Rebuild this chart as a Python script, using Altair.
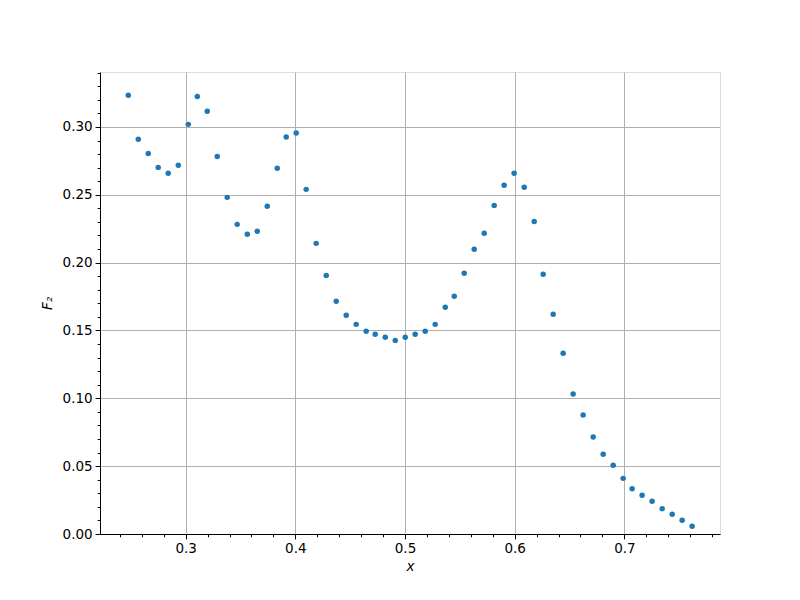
import altair as alt
import pandas as pd

x_vals = [0.2477, 0.2568, 0.2659, 0.2750, 0.2841, 0.2933, 0.3024, 0.3106, 0.3197, 0.3288,
          0.3379, 0.3470, 0.3562, 0.3653, 0.3744, 0.3835, 0.3917, 0.4008, 0.4099, 0.4190,
          0.4282, 0.4373, 0.4464, 0.4555, 0.4646, 0.4728, 0.4820, 0.4911, 0.5002, 0.5093,
          0.5184, 0.5275, 0.5367, 0.5449, 0.5540, 0.5631, 0.5722, 0.5813, 0.5904, 0.5995,
          0.6087, 0.6178, 0.6260, 0.6351, 0.6442, 0.6533, 0.6624, 0.6716, 0.6807, 0.6898,
          0.6989, 0.7071, 0.7162, 0.7253, 0.7345, 0.7436, 0.7527, 0.7618]
f2_vals = [0.3233, 0.2909, 0.2805, 0.2702, 0.2658, 0.2717, 0.3019, 0.3225, 0.3115, 0.2783,
           0.2481, 0.2282, 0.2209, 0.2231, 0.2415, 0.2695, 0.2926, 0.2955, 0.2540, 0.2142,
           0.1906, 0.1715, 0.1612, 0.1545, 0.1494, 0.1472, 0.1450, 0.1427, 0.1450, 0.1472,
           0.1494, 0.1545, 0.1671, 0.1752, 0.1921, 0.2098, 0.2216, 0.2422, 0.2570, 0.2658,
           0.2555, 0.2304, 0.1914, 0.1619, 0.1332, 0.1032, 0.0877, 0.0715, 0.0587, 0.0506,
           0.0410, 0.0334, 0.0285, 0.0241, 0.0187, 0.0145, 0.0101, 0.0057]

x_ticks = [round(0.24 + 0.02 * i, 2) for i in range(28)]
y_ticks = [round(0.01 * i, 2) for i in range(35)]

df = pd.DataFrame({"x": x_vals, "F2": f2_vals})

x_major = "abs(datum.value*10 - round(datum.value*10)) < 0.001"
y_major = "abs(datum.value*20 - round(datum.value*20)) < 0.001"

font = "DejaVu Sans"

x_axis = alt.Axis(
    values=x_ticks,
    labelExpr=f"{x_major} ? format(datum.value, '.1f') : ''",
    tickSize={"condition": {"test": x_major, "value": 4.9}, "value": 2.8},
    gridOpacity={"condition": {"test": x_major, "value": 1}, "value": 0},
    grid=True, gridColor="#b0b0b0", gridWidth=1,
    tickColor="black", tickWidth=1, domainColor="black", domainWidth=1,
    labelFont=font, labelFontSize=13.5, labelColor="black", labelPadding=3,
    labelFlush=False, labelOverlap=False,
    title="x", titleFont=font, titleFontSize=13.5, titleFontStyle="italic",
    titleFontWeight="normal", titleColor="black", titlePadding=4,
)
y_axis = alt.Axis(
    values=y_ticks,
    labelExpr=f"{y_major} ? format(datum.value, '.2f') : ''",
    tickSize={"condition": {"test": y_major, "value": 4.9}, "value": 2.8},
    gridOpacity={"condition": {"test": y_major, "value": 1}, "value": 0},
    grid=True, gridColor="#b0b0b0", gridWidth=1,
    tickColor="black", tickWidth=1, domainColor="black", domainWidth=1,
    labelFont=font, labelFontSize=13.5, labelColor="black", labelPadding=3,
    labelFlush=False, labelOverlap=False,
    title="F₂", titleFont=font, titleFontSize=13.5, titleFontStyle="italic",
    titleFontWeight="normal", titleColor="black", titlePadding=8,
)

chart = alt.Chart(df).mark_point(
    filled=True, size=30, color="#1f77b4", opacity=1
).encode(
    x=alt.X("x:Q", scale=alt.Scale(domain=[0.2219, 0.7872], nice=False, zero=False), axis=x_axis),
    y=alt.Y("F2:Q", scale=alt.Scale(domain=[0.0, 0.3405], nice=False, zero=False), axis=y_axis),
).properties(
    width=620, height=462,
    autosize=alt.AutoSizeParams(type="none"),
    padding={"left": 92, "top": 64, "right": 60, "bottom": 50},
).configure_view(
    stroke="black", strokeWidth=1
).configure(background="white")

chart.save("out.html", embed_options={"renderer": "svg", "actions": False})
